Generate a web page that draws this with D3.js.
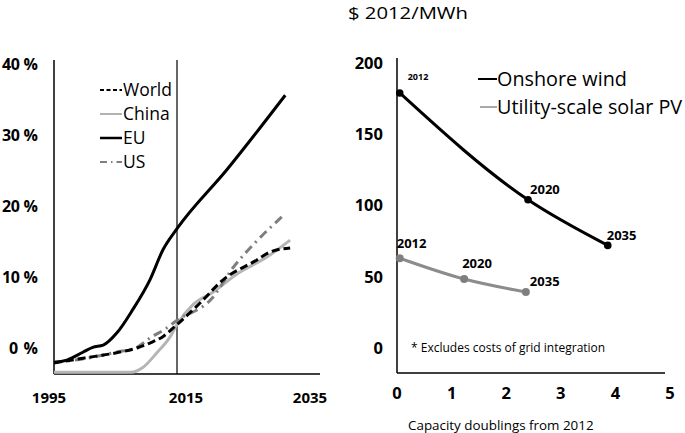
<!DOCTYPE html>
<html><head><meta charset="utf-8">
<script src="https://cdn.jsdelivr.net/npm/d3@7"></script>
<style>body{margin:0;background:#fff}svg{display:block}text{font-family:"Open Sans",sans-serif}</style>
</head><body>
<svg id="c" width="685" height="433"></svg>
<script>
// ---- Left panel data (share, %) ----
const euYears = [1995, 1997.1, 1999.7, 2001.3, 2003.0, 2005.2, 2007.8, 2010.6, 2012.7, 2015, 2023.1, 2032.6];
const euValues = [-2.0, -1.7, -0.6, 0.1, 0.4, 2.1, 5.4, 9.6, 13.8, 16.8, 25.1, 35.6];
const chinaYears = [1995, 2007.5, 2009.5, 2011.7, 2013.9, 2015, 2017.6, 2020.9, 2024.7, 2029.6, 2033.4];
const chinaValues = [-3.4, -3.4, -2.7, -0.7, 1.6, 3.3, 6.1, 7.9, 10.4, 12.8, 15.2];
const worldYears = [1995, 2000, 2005, 2008.5, 2010.6, 2012.7, 2015, 2018.7, 2022.5, 2028, 2030.1, 2033.4];
const worldValues = [-2.1, -1.4, -0.7, 0.0, 0.7, 1.6, 3.3, 6.3, 9.6, 12.4, 13.5, 14.1];
const usYears = [1995, 2000, 2005, 2008.5, 2010.6, 2013.3, 2015, 2020.7, 2024.1, 2028, 2032.6];
const usValues = [-2.0, -1.5, -0.6, 0.1, 1.4, 2.8, 3.9, 7.0, 11.3, 15.1, 18.9];
const leftYTicks = [0, 10, 20, 30, 40];
const leftXTicks = [1995, 2015, 2035];
const legendLeft = ["World", "China", "EU", "US"];

// ---- Right panel data ($2012/MWh vs capacity doublings) ----
const windX = [0.05, 2.4, 3.86];
const windY = [179, 104, 72];
const windLabels = ["2012", "2020", "2035"];
const solarX = [0.05, 1.23, 2.36];
const solarY = [63, 48.4, 39.3];
const solarLabels = ["2012", "2020", "2035"];
const rightYTicks = [0, 50, 100, 150, 200];
const rightXTicks = [0, 1, 2, 3, 4, 5];
const legendRight = ["Onshore wind", "Utility-scale solar PV"];

const svg = d3.select("#c");
const zip = (a, b) => a.map((v, i) => [v, b[i]]);

// ===== Left panel =====
const xL = d3.scaleLinear().domain([1995, 2035]).range([54, 300]);
const yL = d3.scaleLinear().domain([0, 40]).range([348, 64]);
const yBottom = 374, yTop = 60;

const gl = svg.append("g");
gl.append("line").attr("x1", xL(1995)).attr("x2", xL(1995)).attr("y1", yTop).attr("y2", yBottom).attr("stroke", "#000").attr("stroke-width", 1.5);
gl.append("line").attr("x1", xL(1995)).attr("x2", 320).attr("y1", yBottom).attr("y2", yBottom).attr("stroke", "#000").attr("stroke-width", 1.5);
gl.append("line").attr("x1", xL(2015)).attr("x2", xL(2015)).attr("y1", yTop).attr("y2", yBottom).attr("stroke", "#000").attr("stroke-width", 1.2);

gl.selectAll(".yt").data(leftYTicks).enter().append("text")
  .attr("x", 38).attr("y", d => yL(d)).attr("dy", "0.35em").attr("text-anchor", "end")
  .attr("font-size", 16).attr("font-weight", "bold")
  .attr("textLength", d => d === 0 ? 29 : 36).attr("lengthAdjust", "spacing")
  .text(d => d + " %");
const xOff = [-5, 9, 10];
gl.selectAll(".xt").data(leftXTicks).enter().append("text")
  .attr("x", (d, i) => xL(d) + xOff[i]).attr("y", 398).attr("dy", "0.35em").attr("text-anchor", "middle")
  .attr("font-size", 15).attr("font-weight", "bold").text(d => d);

const lineL = d3.line().x(d => xL(d[0])).y(d => yL(d[1])).curve(d3.curveMonotoneX);
gl.append("path").datum(zip(chinaYears, chinaValues)).attr("d", lineL).attr("fill", "none").attr("stroke", "#b5b5b5").attr("stroke-width", 3);
gl.append("path").datum(zip(usYears, usValues)).attr("d", lineL).attr("fill", "none").attr("stroke", "#7f7f7f").attr("stroke-width", 3).attr("stroke-dasharray", "9,5,2,5");
gl.append("path").datum(zip(euYears, euValues)).attr("d", lineL).attr("fill", "none").attr("stroke", "#000").attr("stroke-width", 3);
gl.append("path").datum(zip(worldYears, worldValues)).attr("d", lineL).attr("fill", "none").attr("stroke", "#000").attr("stroke-width", 3).attr("stroke-dasharray", "8,4");

const legStyles = [
  {c: "#000", w: 2.2, d: "4,2.5"},
  {c: "#999", w: 1.5, d: null},
  {c: "#000", w: 2.5, d: null},
  {c: "#7f7f7f", w: 2, d: "7,4,1.5,4"}
];
const lg = gl.selectAll(".lg").data(legendLeft).enter().append("g")
  .attr("transform", (d, i) => `translate(100,${90 + i * 24})`);
lg.append("line").attr("x1", 0).attr("x2", 22).attr("stroke", (d, i) => legStyles[i].c)
  .attr("stroke-width", (d, i) => legStyles[i].w).attr("stroke-dasharray", (d, i) => legStyles[i].d);
lg.append("text").attr("x", 23).attr("dy", "0.35em").attr("font-size", 17.5).text(d => d);

// ===== Right panel =====
const xR = d3.scaleLinear().domain([0, 5]).range([397, 670]);
const yR = d3.scaleLinear().domain([0, 200]).range([348, 63]);
const gr = svg.append("g");
gr.append("line").attr("x1", xR(0)).attr("x2", xR(0)).attr("y1", 58).attr("y2", 373).attr("stroke", "#000").attr("stroke-width", 1.5);
gr.append("line").attr("x1", xR(0)).attr("x2", 665).attr("y1", 373).attr("y2", 373).attr("stroke", "#000").attr("stroke-width", 1.5);

gr.selectAll(".yt").data(rightYTicks).enter().append("text")
  .attr("x", 383).attr("y", d => yR(d)).attr("dy", "0.35em").attr("text-anchor", "end")
  .attr("font-size", 16.5).attr("font-weight", "bold").text(d => d);
gr.selectAll(".xt").data(rightXTicks).enter().append("text")
  .attr("x", d => xR(d)).attr("y", 393).attr("dy", "0.35em").attr("text-anchor", "middle")
  .attr("font-size", 16.5).attr("font-weight", "bold").text(d => d);

svg.append("text").attr("x", 348).attr("y", 18.5).attr("font-size", 17)
  .attr("textLength", 120).attr("lengthAdjust", "spacingAndGlyphs").text("$ 2012/MWh");
svg.append("text").attr("x", 411).attr("y", 348).attr("dy", "0.35em").attr("font-size", 12).text("* Excludes costs of grid integration");
svg.append("text").attr("x", 408).attr("y", 425).attr("dy", "0.35em").attr("font-size", 13.4).text("Capacity doublings from 2012");

const lineR = d3.line().x(d => xR(d[0])).y(d => yR(d[1])).curve(d3.curveMonotoneX);
const wind = zip(windX, windY), solar = zip(solarX, solarY);
gr.append("path").datum(solar).attr("d", lineR).attr("fill", "none").attr("stroke", "#8c8c8c").attr("stroke-width", 3);
gr.selectAll(".sp").data(solar).enter().append("circle").attr("cx", d => xR(d[0])).attr("cy", d => yR(d[1])).attr("r", 4).attr("fill", "#7f7f7f");
gr.append("path").datum(wind).attr("d", lineR).attr("fill", "none").attr("stroke", "#000").attr("stroke-width", 3);
gr.selectAll(".wp").data(wind).enter().append("circle").attr("cx", d => xR(d[0])).attr("cy", d => yR(d[1])).attr("r", 3.8).attr("fill", "#000");

const windLabOff = [[8, -16], [2, -10], [-1, -10]];
const windLabSize = [9, 13, 13];
gr.selectAll(".wl").data(wind).enter().append("text")
  .attr("x", (d, i) => xR(d[0]) + windLabOff[i][0]).attr("y", (d, i) => yR(d[1]) + windLabOff[i][1])
  .attr("dy", "0.35em").attr("font-size", (d, i) => windLabSize[i]).attr("font-weight", "bold").text((d, i) => windLabels[i]);
const solarLabOff = [[-3, -15], [-2, -16], [4, -11]];
gr.selectAll(".sl").data(solar).enter().append("text")
  .attr("x", (d, i) => xR(d[0]) + solarLabOff[i][0]).attr("y", (d, i) => yR(d[1]) + solarLabOff[i][1])
  .attr("dy", "0.35em").attr("font-size", 13).attr("font-weight", "bold").text((d, i) => solarLabels[i]);

const lr = gr.selectAll(".lr").data(legendRight).enter().append("g")
  .attr("transform", (d, i) => `translate(${i === 0 ? 478 : 480},${79 + i * 28})`);
lr.append("line").attr("x1", 0).attr("x2", (d, i) => i === 0 ? 19 : 17).attr("stroke", (d, i) => i === 0 ? "#000" : "#8c8c8c").attr("stroke-width", (d, i) => i === 0 ? 2 : 1.5);
lr.append("text").attr("x", (d, i) => i === 0 ? 19 : 17).attr("dy", "0.35em").attr("font-size", 19.8).text(d => d);
</script>
</body></html>
